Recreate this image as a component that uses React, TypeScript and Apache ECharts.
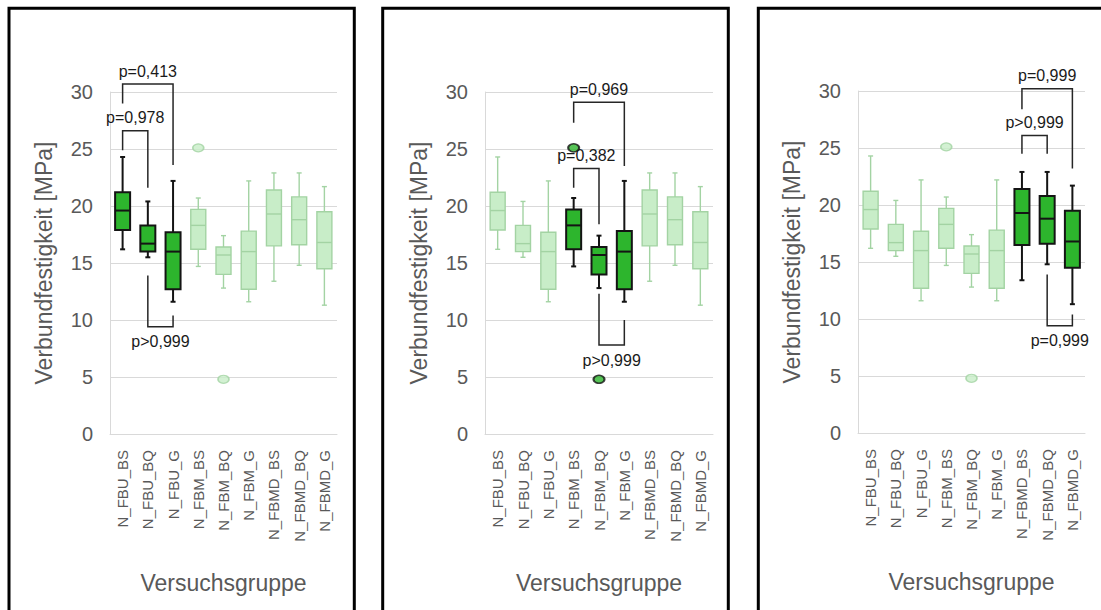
import React, { useEffect, useRef } from "react";
import * as echarts from "echarts";

const categories = [
  "N_FBU_BS", "N_FBU_BQ", "N_FBU_G",
  "N_FBM_BS", "N_FBM_BQ", "N_FBM_G",
  "N_FBMD_BS", "N_FBMD_BQ", "N_FBMD_G",
];
// [min, Q1, median, Q3, max] per category
const boxMin = [16.2, 15.5, 11.6, 14.7, 12.8, 11.6, 13.4, 14.8, 11.3];
const boxQ1 = [17.9, 16.0, 12.7, 16.2, 14.0, 12.7, 16.5, 16.6, 14.5];
const boxMed = [19.6, 16.7, 16.0, 18.3, 15.7, 16.0, 19.3, 18.8, 16.8];
const boxQ3 = [21.2, 18.3, 17.7, 19.7, 16.4, 17.8, 21.4, 20.8, 19.5];
const boxMax = [24.3, 20.4, 22.2, 20.7, 17.4, 22.2, 22.9, 22.9, 21.7];
const outlierCat = [3, 4];
const outlierVal = [25.1, 4.8];
const yTicks = [0, 5, 10, 15, 20, 25, 30];

// highlighted groups per panel
const panelHighlight = [
  [0, 1, 2],
  [3, 4, 5],
  [6, 7, 8],
];
// brackets: from, to, bar value, left leg end, right leg end, below?, label
const bracketFrom = [[0, 0, 1], [3, 3, 4], [6, 6, 7]];
const bracketTo = [[1, 2, 2], [5, 4, 5], [8, 7, 8]];
const bracketY = [[26.6, 30.7, 9.4], [29.1, 23.3, 7.8], [30.2, 26.1, 9.4]];
const bracketLeft = [[24.9, 29.0, 13.9], [27.3, 21.6, 12.3], [28.4, 24.5, 13.9]];
const bracketRight = [[21.6, 23.6, 10.4], [23.5, 18.4, 10.0], [23.2, 24.5, 10.4]];
const bracketBelow = [[0, 0, 1], [0, 0, 1], [0, 0, 1]];
const bracketLabel = [
  ["p=0,978", "p=0,413", "p>0,999"],
  ["p=0,969", "p=0,382", "p>0,999"],
  ["p=0,999", "p>0,999", "p=0,999"],
];

const FONT = "Liberation Sans, Arial, sans-serif";
const GRAY_TEXT = "#595959";
const DARK_FILL = "#2db52d";
const DARK_STROKE = "#141414";
const LIGHT_FILL = "#c8edc8";
const LIGHT_STROKE = "#a3d3a3";

const grids = [
  { left: 110, top: 92, width: 227, height: 342 },
  { left: 485, top: 92, width: 228, height: 342 },
  { left: 858, top: 91, width: 227, height: 342 },
];
const borders = [
  { x: 9, w: 345.3 },
  { x: 382.7, w: 345.6 },
  { x: 758.3, w: 400 },
];

export default function App() {
  const ref = useRef<HTMLDivElement>(null);
  useEffect(() => {
    if (!ref.current) return;
    const chart = echarts.init(ref.current, null, { renderer: "svg" });

    const series: any[] = [];
    const xAxis: any[] = [];
    const yAxis: any[] = [];

    grids.forEach((g, p) => {
      xAxis.push({
        type: "category",
        gridIndex: p,
        data: categories,
        axisTick: { show: false },
        axisLine: { show: true, lineStyle: { color: "#d9d9d9" } },
        axisLabel: {
          rotate: 90,
          interval: 0,
          margin: 16,
          fontSize: 15,
          fontFamily: FONT,
          color: GRAY_TEXT,
        },
        name: "Versuchsgruppe",
        nameLocation: "middle",
        nameGap: 137,
        nameTextStyle: { fontSize: 23, fontFamily: FONT, color: GRAY_TEXT },
      });
      yAxis.push({
        type: "value",
        gridIndex: p,
        min: yTicks[0],
        max: yTicks[yTicks.length - 1],
        interval: 5,
        axisLine: { show: true, lineStyle: { color: "#d9d9d9" } },
        axisTick: { show: false },
        splitLine: { show: true, lineStyle: { color: "#d9d9d9", width: 1 } },
        axisLabel: { fontSize: 20, fontFamily: FONT, color: GRAY_TEXT, margin: 17 },
        name: "Verbundfestigkeit [MPa]",
        nameLocation: "middle",
        nameGap: 55,
        nameTextStyle: { fontSize: 23, fontFamily: FONT, color: GRAY_TEXT },
      });

      const hl = panelHighlight[p];
      const boxData = categories.map((_, i) => [
        i, boxMin[i], boxQ1[i], boxMed[i], boxQ3[i], boxMax[i], hl.includes(i) ? 1 : 0,
      ]);
      series.push({
        type: "custom",
        xAxisIndex: p,
        yAxisIndex: p,
        data: boxData,
        encode: { x: 0, y: [1, 2, 3, 4, 5] },
        z: 3,
        renderItem: (params: any, api: any) => {
          const i = api.value(0);
          const isHl = api.value(6) === 1;
          const c = (v: number) => api.coord([i, v]);
          const pMin = c(api.value(1));
          const pQ1 = c(api.value(2));
          const pMed = c(api.value(3));
          const pQ3 = c(api.value(4));
          const pMax = c(api.value(5));
          const x = pMed[0];
          const half = 7.5;
          const cap = 2.5;
          const stroke = isHl ? DARK_STROKE : LIGHT_STROKE;
          const fill = isHl ? DARK_FILL : LIGHT_FILL;
          const lw = isHl ? 2 : 1.4;
          const ls = { stroke, lineWidth: lw };
          return {
            type: "group",
            children: [
              { type: "line", shape: { x1: x, y1: pMax[1], x2: x, y2: pQ3[1] }, style: ls },
              { type: "line", shape: { x1: x, y1: pQ1[1], x2: x, y2: pMin[1] }, style: ls },
              { type: "line", shape: { x1: x - cap, y1: pMax[1], x2: x + cap, y2: pMax[1] }, style: ls },
              { type: "line", shape: { x1: x - cap, y1: pMin[1], x2: x + cap, y2: pMin[1] }, style: ls },
              {
                type: "rect",
                shape: { x: x - half, y: pQ3[1], width: half * 2, height: pQ1[1] - pQ3[1] },
                style: { fill, stroke, lineWidth: lw },
              },
              { type: "line", shape: { x1: x - half, y1: pMed[1], x2: x + half, y2: pMed[1] }, style: ls },
            ],
          };
        },
      });

      series.push({
        type: "scatter",
        xAxisIndex: p,
        yAxisIndex: p,
        symbol: "circle",
        symbolSize: [11, 8],
        z: 4,
        data: outlierCat.map((ci, k) => {
          const isHl = hl.includes(ci);
          return {
            value: [ci, outlierVal[k]],
            itemStyle: {
              color: isHl ? DARK_FILL : LIGHT_FILL,
              borderColor: isHl ? DARK_STROKE : LIGHT_STROKE,
              borderWidth: isHl ? 1.8 : 1.4,
            },
          };
        }),
      });

      const labels = bracketLabel[p];
      const bData = bracketFrom[p].map((f, k) => [
        f, bracketTo[p][k], bracketY[p][k], bracketLeft[p][k], bracketRight[p][k], bracketBelow[p][k], k,
      ]);
      series.push({
        type: "custom",
        xAxisIndex: p,
        yAxisIndex: p,
        data: bData,
        encode: { x: [0, 1], y: [2, 3, 4] },
        clip: false,
        z: 5,
        renderItem: (params: any, api: any) => {
          const a = api.value(0);
          const b = api.value(1);
          const y = api.value(2);
          const p1 = api.coord([a, api.value(3)]);
          const p2 = api.coord([a, y]);
          const p3 = api.coord([b, y]);
          const p4 = api.coord([b, api.value(4)]);
          const below = api.value(5) === 1;
          const label = labels[api.value(6)];
          const cx = (p2[0] + p3[0]) / 2;
          const ty = below ? p2[1] + 15 : p2[1] - 13;
          return {
            type: "group",
            children: [
              {
                type: "polyline",
                shape: { points: [p1, p2, p3, p4] },
                style: { stroke: "#262626", lineWidth: 1.5, fill: "none" },
              },
              {
                type: "text",
                x: cx,
                y: ty,
                style: {
                  text: label,
                  align: "center",
                  verticalAlign: "middle",
                  fill: "#1a1a1a",
                  fontSize: 16,
                  fontFamily: FONT,
                },
              },
            ],
          };
        },
      });
    });

    chart.setOption({
      animation: false,
      backgroundColor: "#ffffff",
      grid: grids.map((g) => ({ ...g, containLabel: false })),
      xAxis,
      yAxis,
      series,
      graphic: borders.map((b) => ({
        type: "rect",
        shape: { x: b.x, y: 8.3, width: b.w, height: 640 },
        style: { fill: "none", stroke: "#000000", lineWidth: 3 },
        z: 10,
      })),
    });
    return () => chart.dispose();
  }, []);

  return (
    <div
      ref={ref}
      style={{ position: "fixed", left: 0, top: 0, width: 1101, height: 610, background: "#fff" }}
    />
  );
}
